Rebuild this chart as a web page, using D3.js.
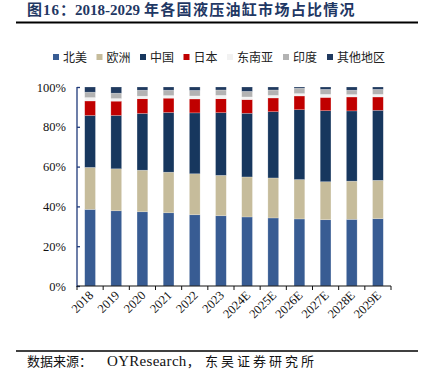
<!DOCTYPE html>
<html>
<head>
<meta charset="utf-8">
<script src="https://cdn.jsdelivr.net/npm/d3@7/dist/d3.min.js"></script>
<style>
  html, body { margin: 0; padding: 0; background: #fff; }
  svg { display: block; }
</style>
</head>
<body>
<svg id="chart" width="423" height="372"></svg>
<script>
// years on the x axis
const years = ["2018", "2019", "2020", "2021", "2022", "2023",
  "2024E", "2025E", "2026E", "2027E", "2028E", "2029E"];

// share of each region, %
const northAmerica = [38.5, 37.8, 37.3, 36.8, 35.8, 35.3, 34.7, 34.2, 33.7, 33.3, 33.5, 33.8];
const europe       = [21.1, 21.1, 20.9, 20.4, 20.6, 20.3, 20.1, 20.1, 19.8, 19.1, 19.2, 19.3];
const china        = [26.1, 26.8, 28.5, 30.0, 30.6, 31.5, 32.0, 33.3, 35.1, 35.7, 35.3, 35.2];
const japan        = [7.3, 7.2, 7.4, 7.2, 7.0, 7.0, 6.9, 6.9, 6.9, 6.7, 7.0, 6.7];
const southeastAsia = [1.7, 1.3, 1.3, 1.3, 1.5, 1.7, 1.3, 1.3, 1.2, 1.5, 1.2, 1.3];
const india        = [2.7, 2.7, 3.0, 2.7, 2.8, 2.7, 2.8, 2.7, 2.7, 2.5, 2.2, 2.5];
const others       = [2.6, 3.1, 1.6, 1.6, 1.7, 1.5, 2.2, 1.5, 0.6, 1.2, 1.6, 1.2];

const seriesNames = ["北美", "欧洲", "中国", "日本", "东南亚", "印度", "其他地区"];
const seriesValues = [northAmerica, europe, china, japan, southeastAsia, india, others];
const colors = ["#385C93", "#C6BC9B", "#17375E", "#C00000", "#F2F2F2", "#B3B3B3", "#203A5F"];
const yTicks = [0, 20, 40, 60, 80, 100];

const svg = d3.select("#chart");
const serif = "'Liberation Serif', 'Times New Roman', 'Noto Sans CJK SC', serif";
const cjk = "'Noto Sans CJK SC', sans-serif";

// title + rule
const title = svg.append("text")
  .attr("x", 27).attr("y", 15)
  .attr("fill", "#1F3864")
  .style("font-family", serif)
  .style("font-weight", "bold")
  .style("font-size", "15px");
title.append("tspan").style("letter-spacing", "1px").text("图16：");
title.append("tspan").attr("x", 75).text("2018-2029");
title.append("tspan").attr("dx", 4).style("letter-spacing", "1.3px").text("年各国液压油缸市场占比情况");

svg.append("line")
  .attr("x1", 16).attr("x2", 418).attr("y1", 22.5).attr("y2", 22.5)
  .attr("stroke", "#000").attr("stroke-width", 2);

// stacked data
const rows = years.map((y, i) => {
  const r = { year: y };
  seriesNames.forEach((n, k) => r[n] = seriesValues[k][i]);
  return r;
});
const stacked = d3.stack().keys(seriesNames)(rows);

const x = d3.scaleBand().domain(years).range([77, 391]).paddingInner(0.59).paddingOuter(0.295);
const y = d3.scaleLinear().domain([0, 100]).range([286, 87]);
const color = d3.scaleOrdinal().domain(seriesNames).range(colors);

svg.append("g")
  .selectAll("g")
  .data(stacked)
  .join("g")
  .attr("fill", d => color(d.key))
  .selectAll("rect")
  .data(d => d)
  .join("rect")
  .attr("x", d => x(d.data.year))
  .attr("width", x.bandwidth())
  .attr("y", d => y(d[1]))
  .attr("height", d => y(d[0]) - y(d[1]))
  .attr("stroke", "#fff")
  .attr("stroke-opacity", 0.35)
  .attr("stroke-width", 0.6);

// y axis
const yAxis = svg.append("g")
  .attr("transform", "translate(77,0)")
  .call(d3.axisRight(y).tickValues(yTicks).tickSize(3).tickFormat(""));
yAxis.select(".domain").attr("stroke", "#1F3A7A").attr("stroke-width", 1.3).attr("d", "M0,287V87");
yAxis.selectAll(".tick line").attr("stroke", "#1F3A7A").attr("stroke-width", 1.3);

svg.append("g")
  .selectAll("text")
  .data(yTicks)
  .join("text")
  .attr("x", 66)
  .attr("y", d => y(d) + 4.5)
  .attr("text-anchor", "end")
  .style("font-family", serif)
  .style("font-size", "12.5px")
  .attr("fill", "#111")
  .text(d => d + "%");

// x axis with ticks at band edges
const edges = years.map(d => x(d) - x.step() * x.paddingInner() / 2).concat([391]);
const xAxis = svg.append("g");
xAxis.append("line")
  .attr("x1", 77).attr("x2", 391).attr("y1", 286).attr("y2", 286)
  .attr("stroke", "#111").attr("stroke-width", 1.2);
xAxis.selectAll(".edge")
  .data(edges)
  .join("line")
  .attr("x1", d => d).attr("x2", d => d)
  .attr("y1", 286).attr("y2", 290)
  .attr("stroke", "#111").attr("stroke-width", 1);

xAxis.selectAll(".lbl")
  .data(years)
  .join("text")
  .attr("transform", d => `translate(${x(d) + x.bandwidth() / 2 + 4},${296}) rotate(-45)`)
  .attr("text-anchor", "end")
  .style("font-family", serif)
  .style("font-size", "12.5px")
  .attr("fill", "#111")
  .text(d => d);

// legend
const legendX = [53, 96.5, 140, 183.5, 227, 283, 327];
const legend = svg.append("g")
  .selectAll("g")
  .data(seriesNames)
  .join("g")
  .attr("transform", (d, i) => `translate(${legendX[i]},57)`);
legend.append("rect")
  .attr("x", 0).attr("y", -3).attr("width", 6).attr("height", 6)
  .attr("fill", d => color(d));
legend.append("text")
  .attr("x", 10).attr("y", 4.5)
  .style("font-family", cjk)
  .style("font-size", "12px")
  .attr("fill", "#222")
  .text(d => d);

// source
svg.append("line")
  .attr("x1", 16).attr("x2", 418).attr("y1", 351).attr("y2", 351)
  .attr("stroke", "#000").attr("stroke-width", 1.4);

const src = svg.append("text")
  .attr("x", 27).attr("y", 366)
  .style("font-size", "13px")
  .attr("fill", "#111");
src.append("tspan").style("font-family", cjk).text("数据来源：");
src.append("tspan").attr("x", 107).style("font-family", serif).style("font-size", "15px")
  .style("letter-spacing", "0.3px").text("OYResearch");
src.append("tspan").style("font-family", cjk).text("，");
src.append("tspan").attr("x", 205).style("font-family", cjk).style("letter-spacing", "3px").text("东吴证券研究所");
</script>
</body>
</html>
